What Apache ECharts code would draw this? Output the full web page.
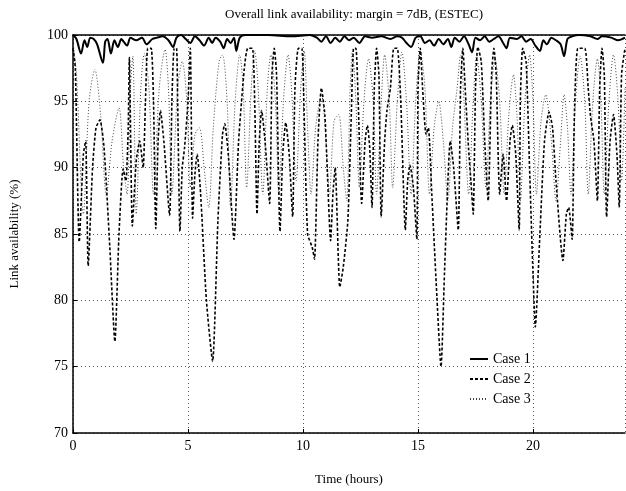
<!DOCTYPE html>
<html>
<head>
<meta charset="utf-8">
<script src="https://cdn.jsdelivr.net/npm/echarts@6/dist/echarts.min.js"></script>
<style>html,body{margin:0;padding:0;background:#fff}#c{width:626px;height:491px}</style>
</head>
<body>
<div id="c"></div>
<script>
const titleText = 'Overall link availability: margin = 7dB, (ESTEC)';
const xTicks = [0, 5, 10, 15, 20];
const yTicks = [70, 75, 80, 85, 90, 95, 100];
const seriesNames = ['Case 1', 'Case 2', 'Case 3'];

// Case 1 (solid) : [hour, availability %]
const case1 = [
[0,100],[0.15,99.7],[0.35,98.6],[0.5,99.6],[0.62,99.1],[0.75,99.8],[0.9,99.7],[1.05,99.3],[1.3,97.9],[1.4,99.5],
[1.5,99.7],[1.65,98.6],[1.8,99.6],[1.95,99.1],[2.1,99.7],[2.2,99.5],[2.35,99.2],[2.5,99.8],[2.75,99.6],[3.0,99.8],
[3.2,99.3],[3.45,99.7],[3.65,99.8],[3.9,99.9],[4.15,99.6],[4.35,99.1],[4.5,99.8],[4.7,100],[4.9,99.7],[5.1,99.4],
[5.3,99.9],[5.5,99.6],[5.7,99.2],[5.9,99.8],[6.05,99.4],[6.2,99.8],[6.4,99.5],[6.55,99.0],[6.7,99.7],[6.85,99.4],
[7.0,99.8],[7.1,98.8],[7.25,99.8],[7.5,100],[8.5,100],[9.5,99.9],[10.3,100],[10.6,99.8],[10.8,99.5],[11.0,99.9],
[11.2,99.4],[11.4,99.8],[11.6,99.5],[11.8,99.9],[12.0,99.6],[12.2,99.8],[12.45,99.4],[12.7,99.9],[13.0,99.8],[13.4,99.9],
[13.8,99.7],[14.1,99.9],[14.3,99.8],[14.5,99.4],[14.7,99.1],[14.9,99.8],[15.1,99.9],[15.3,99.4],[15.5,99.6],[15.7,99.2],
[15.9,99.7],[16.1,99.3],[16.3,99.7],[16.45,99.1],[16.6,99.8],[16.8,99.5],[17.0,99.9],[17.2,99.3],[17.35,98.7],[17.5,99.8],
[17.7,99.6],[17.9,99.9],[18.1,99.5],[18.3,99.7],[18.5,99.9],[18.7,99.4],[18.85,99.0],[19.0,99.8],[19.3,99.7],[19.5,99.9],
[19.7,99.5],[19.9,99.7],[20.1,99.2],[20.3,98.8],[20.45,99.6],[20.6,99.3],[20.8,99.8],[21.0,99.6],[21.2,99.3],[21.35,98.4],
[21.5,99.7],[21.7,99.9],[22.0,100],[22.5,99.9],[22.8,99.7],[23.0,99.9],[23.4,99.8],[23.7,99.6],[24,99.8]
];

// Case 2 (dashed)
const case2 = [
[0,99],[0.1,97.5],[0.27,84.4],[0.45,91],[0.55,92],[0.66,82.6],[0.85,90],[1.0,93],[1.17,93.6],[1.35,91.5],
[1.6,84],[1.82,76.9],[2.0,85],[2.18,89.9],[2.3,89],[2.4,93],[2.45,98.3],[2.58,85.6],[2.75,90.5],[2.9,92],
[3.05,90],[3.15,95],[3.25,99],[3.4,99],[3.5,95],[3.6,85.4],[3.7,92],[3.8,94.3],[3.95,92],[4.2,86.4],
[4.3,95],[4.4,99],[4.5,99],[4.55,95],[4.65,85.2],[4.75,90],[4.85,91.5],[5.0,95],[5.1,99],[5.2,86.2],
[5.3,89.5],[5.4,91],[5.55,88],[5.8,80],[6.07,75.4],[6.3,86],[6.5,92.5],[6.6,93.3],[6.75,91],[7.0,84.6],
[7.2,92],[7.45,97.5],[7.6,99],[7.8,99],[7.9,95],[8.0,86.5],[8.1,92],[8.2,94.3],[8.35,92],[8.55,87.3],
[8.65,97],[8.75,99],[8.85,97],[9.0,85.2],[9.12,91],[9.25,93.4],[9.4,91],[9.55,86.3],[9.65,96],[9.8,99],
[9.95,99],[10.05,94],[10.2,85],[10.4,84],[10.5,83.1],[10.65,92],[10.8,96],[10.95,94],[11.05,90],[11.2,84.5],
[11.3,88],[11.4,90],[11.6,81],[11.75,82.5],[11.95,86],[12.1,94],[12.2,99],[12.3,99],[12.4,95],[12.55,87.3],
[12.7,92],[12.8,93.2],[12.9,91.5],[13.0,87],[13.1,96],[13.2,99],[13.3,97],[13.4,86.3],[13.55,92],[13.65,94.3],
[13.8,96],[13.95,99],[14.1,99],[14.25,95],[14.45,85.3],[14.55,89],[14.65,90.2],[14.8,88.5],[14.95,84.6],[15.0,96],
[15.1,99],[15.2,96],[15.35,92.5],[15.45,93],[15.6,88],[15.8,81],[16.0,75],[16.15,82],[16.3,89],[16.4,92],
[16.55,90],[16.75,85.3],[16.85,96],[16.95,99],[17.05,96],[17.2,91.4],[17.3,89],[17.4,86.5],[17.5,96],[17.6,99.1],
[17.75,98],[17.9,92],[18.05,87.5],[18.2,97],[18.3,99],[18.4,97],[18.55,88],[18.7,91],[18.85,87.5],[19.0,92],
[19.1,93.2],[19.25,91],[19.4,85.3],[19.45,95],[19.55,99],[19.7,98],[19.85,90],[20.0,82],[20.1,78],[20.3,85],
[20.5,92],[20.7,94.2],[20.85,93],[21.0,89],[21.3,83],[21.45,86.5],[21.55,87],[21.7,84.6],[21.8,94],[21.95,99],
[22.25,99],[22.4,96],[22.5,93.9],[22.65,92],[22.8,87.5],[22.9,96],[23.0,99],[23.1,97],[23.2,86.3],[23.35,92],
[23.5,94],[23.65,91],[23.75,87],[23.85,97],[24,99]
];

// Case 3 (dotted)
const case3 = [
[0,99.5],[0.15,97],[0.45,86.5],[0.7,95],[0.95,97.4],[1.2,94],[1.45,87.9],[1.7,92],[2.0,94.5],[2.2,90],
[2.35,88],[2.5,96],[2.6,98.4],[2.75,86.5],[2.95,96],[3.1,98.6],[3.3,96],[3.5,88],[3.75,96],[4.0,98.9],
[4.15,96],[4.3,88],[4.55,96],[4.75,98],[4.95,95],[5.1,88.5],[5.3,92.5],[5.5,93],[5.7,90],[5.9,87],
[6.1,93],[6.35,98],[6.5,98.5],[6.7,95],[6.85,87],[7.05,95],[7.25,98.5],[7.4,96],[7.55,88.5],[7.75,96],
[7.9,98.8],[8.05,96],[8.25,88],[8.45,96],[8.6,98.5],[8.8,95],[8.95,88],[9.15,95],[9.35,98.5],[9.5,96],
[9.7,89],[9.9,96],[10.05,98.8],[10.2,93],[10.35,88],[10.55,93],[10.8,95.5],[11.0,92],[11.15,88],[11.35,93.5],
[11.55,94],[11.75,90],[11.9,87.5],[12.05,96],[12.15,98.8],[12.3,95],[12.45,88.5],[12.65,95],[12.85,98.2],[13.05,95],
[13.2,88],[13.4,95],[13.55,98.5],[13.75,95],[13.9,88.5],[14.1,95],[14.3,98.7],[14.5,95],[14.7,88],[14.9,95],
[15.1,98.8],[15.3,96],[15.5,88],[15.7,93],[15.9,95],[16.1,92],[16.3,87.5],[16.5,93],[16.7,96],[16.85,98.5],
[17.0,95],[17.2,88],[17.4,95],[17.55,98.4],[17.75,95],[17.95,88.5],[18.15,95],[18.35,98.2],[18.55,95],[18.75,88],
[18.95,94],[19.15,97],[19.3,94],[19.45,87.5],[19.65,95],[19.85,98.5],[20.0,95],[20.15,88],[20.35,93.5],[20.55,95.5],
[20.8,92],[21.0,87.5],[21.2,92],[21.35,95.5],[21.5,93],[21.65,88],[21.85,95],[22.05,98.4],[22.25,95],[22.4,88],
[22.6,95],[22.8,98.2],[22.95,95],[23.1,88],[23.3,95],[23.5,98.5],[23.7,95],[23.85,89],[24,96]
];

const font = 'Liberation Serif, Times New Roman, serif';
const chart = echarts.init(document.getElementById('c'), null, {renderer: 'canvas'});
chart.setOption({
  animation: false,
  backgroundColor: '#fff',
  title: {
    text: titleText, left: 349, top: 3, textAlign: 'center',
    textStyle: {fontFamily: font, fontSize: 13, fontWeight: 'normal', color: '#000'}
  },
  legend: {
    data: seriesNames, orient: 'vertical', left: 464, top: 347,
    itemWidth: 18, itemHeight: 10, itemGap: 6,
    itemStyle: {opacity: 0},
    textStyle: {fontFamily: font, fontSize: 14, color: '#000'}
  },
  grid: {left: 73, right: 1, top: 35, bottom: 56},
  xAxis: [{
    type: 'value', min: 0, max: 24, interval: 5,
    name: 'Time (hours)', nameLocation: 'middle', nameGap: 40,
    nameTextStyle: {fontFamily: font, fontSize: 13, color: '#000'},
    axisLine: {show: true, lineStyle: {color: '#000', width: 1.5}},
    axisTick: {show: true, inside: true, length: 4, lineStyle: {color: '#000'}},
    axisLabel: {fontFamily: font, fontSize: 14, color: '#000', margin: 6, showMaxLabel: false,
      formatter: v => xTicks.indexOf(v) >= 0 ? String(v) : ''},
    splitLine: {show: true, lineStyle: {color: '#555', type: [1, 3], width: 1}}
  }, {
    type: 'value', position: 'top', min: 0, max: 24,
    axisLine: {show: true, lineStyle: {color: '#000', width: 1.5}},
    axisTick: {show: false}, axisLabel: {show: false}, splitLine: {show: false}
  }],
  yAxis: {
    type: 'value', min: 70, max: 100, interval: 5,
    name: 'Link availability (%)', nameLocation: 'middle', nameGap: 52, nameRotate: 90,
    nameTextStyle: {fontFamily: font, fontSize: 13, color: '#000'},
    axisLine: {show: true, lineStyle: {color: '#000', width: 1.5}},
    axisTick: {show: true, inside: true, length: 4, lineStyle: {color: '#000'}},
    axisLabel: {fontFamily: font, fontSize: 14, color: '#000', margin: 5,
      formatter: v => yTicks.indexOf(v) >= 0 ? String(v) : ''},
    splitLine: {show: true, lineStyle: {color: '#555', type: [1, 3], width: 1}}
  },
  series: [
    {name: seriesNames[2], type: 'line', data: case3, symbol: 'none', smooth: 0.3, z: 2,
      lineStyle: {color: '#444', width: 1, type: [1, 2]}, itemStyle: {color: '#444'}},
    {name: seriesNames[1], type: 'line', data: case2, symbol: 'none', smooth: 0.2, z: 3,
      lineStyle: {color: '#000', width: 1.6, type: [3, 2]}, itemStyle: {color: '#000'}},
    {name: seriesNames[0], type: 'line', data: case1, symbol: 'none', smooth: 0.3, z: 4,
      lineStyle: {color: '#000', width: 2}, itemStyle: {color: '#000'}}
  ]
});
</script>
</body>
</html>
